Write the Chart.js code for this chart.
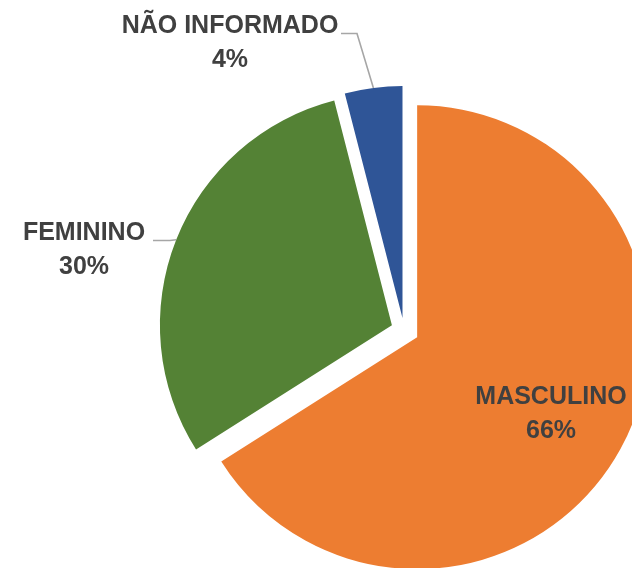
<!DOCTYPE html>
<html>
<head>
<meta charset="utf-8">
<title>Pie</title>
<script src="https://cdn.jsdelivr.net/npm/chart.js@4.4.1/dist/chart.umd.min.js"></script>
<style>
    html, body { margin: 0; padding: 0; background: #ffffff; overflow: hidden; }
    #wrap { position: relative; width: 632px; height: 568px; overflow: hidden; }
    #pie { position: absolute; left: 0; top: 0; }
</style>
</head>
<body>
<div id="wrap"><canvas id="pie" width="808" height="660"></canvas></div>
<script>
// slices, clockwise from 12 o'clock
const categories = ['MASCULINO', 'FEMININO', 'NÃO INFORMADO'];
const shares = [66, 30, 4];
const shareLabels = ['66%', '30%', '4%'];

const sliceColors = ['#ED7D31', '#548235', '#2F5597'];

// pull each slice out along its bisector (px), like Excel's point explosion
const explodePlugin = {
    id: 'explode',
    beforeDatasetsDraw(chart, args, opts) {
        const area = chart.chartArea;
        const cx = (area.left + area.right) / 2;
        const cy = (area.top + area.bottom) / 2;
        chart.getDatasetMeta(0).data.forEach((arc, i) => {
            const mid = (arc.startAngle + arc.endAngle) / 2;
            const d = opts.distances[i] || 0;
            arc.x = cx + Math.cos(mid) * d;
            arc.y = cy + Math.sin(mid) * d;
        });
    }
};

// category + percent labels, with grey leader lines for the outside ones
const sliceLabelPlugin = {
    id: 'sliceLabels',
    afterDatasetsDraw(chart, args, opts) {
        const ctx = chart.ctx;
        ctx.save();
        chart.getDatasetMeta(0).data.forEach((arc, i) => {
            const pos = opts.positions[i];
            if (pos.line) {
                const mid = (arc.startAngle + arc.endAngle) / 2;
                const ex = arc.x + Math.cos(mid) * arc.outerRadius;
                const ey = arc.y + Math.sin(mid) * arc.outerRadius;
                ctx.strokeStyle = opts.lineColor;
                ctx.lineWidth = 1.6;
                ctx.beginPath();
                ctx.moveTo(pos.line[0][0], pos.line[0][1]);
                ctx.lineTo(pos.line[1][0], pos.line[1][1]);
                ctx.lineTo(ex, ey);
                ctx.stroke();
            }
            ctx.fillStyle = opts.color;
            ctx.font = opts.font;
            ctx.textAlign = 'center';
            ctx.textBaseline = 'alphabetic';
            ctx.fillText(categories[i], pos.x, pos.y);
            ctx.fillText(shareLabels[i], pos.x, pos.y + opts.lineGap);
        });
        ctx.restore();
    }
};

const ctx = document.getElementById('pie').getContext('2d');
new Chart(ctx, {
    type: 'pie',
    data: {
        labels: categories,
        datasets: [{
            data: shares,
            backgroundColor: sliceColors,
            borderWidth: 0
        }]
    },
    options: {
        responsive: false,
        animation: false,
        events: [],
        radius: 232,
        layout: { padding: 0 },
        plugins: {
            legend: { display: false },
            tooltip: { enabled: false },
            explode: { distances: [15, 13, 12] },
            sliceLabels: {
                color: '#404040',
                font: 'bold 25px "Liberation Sans", Arial, sans-serif',
                lineColor: '#A6A6A6',
                lineGap: 34,
                positions: [
                    { x: 551, y: 404, line: null },
                    { x: 84, y: 239.5, line: [[153, 240.5], [170, 240.5]] },
                    { x: 230, y: 33, line: [[341, 33.5], [357, 33.5]] }
                ]
            }
        }
    },
    plugins: [explodePlugin, sliceLabelPlugin]
});
</script>
</body>
</html>
